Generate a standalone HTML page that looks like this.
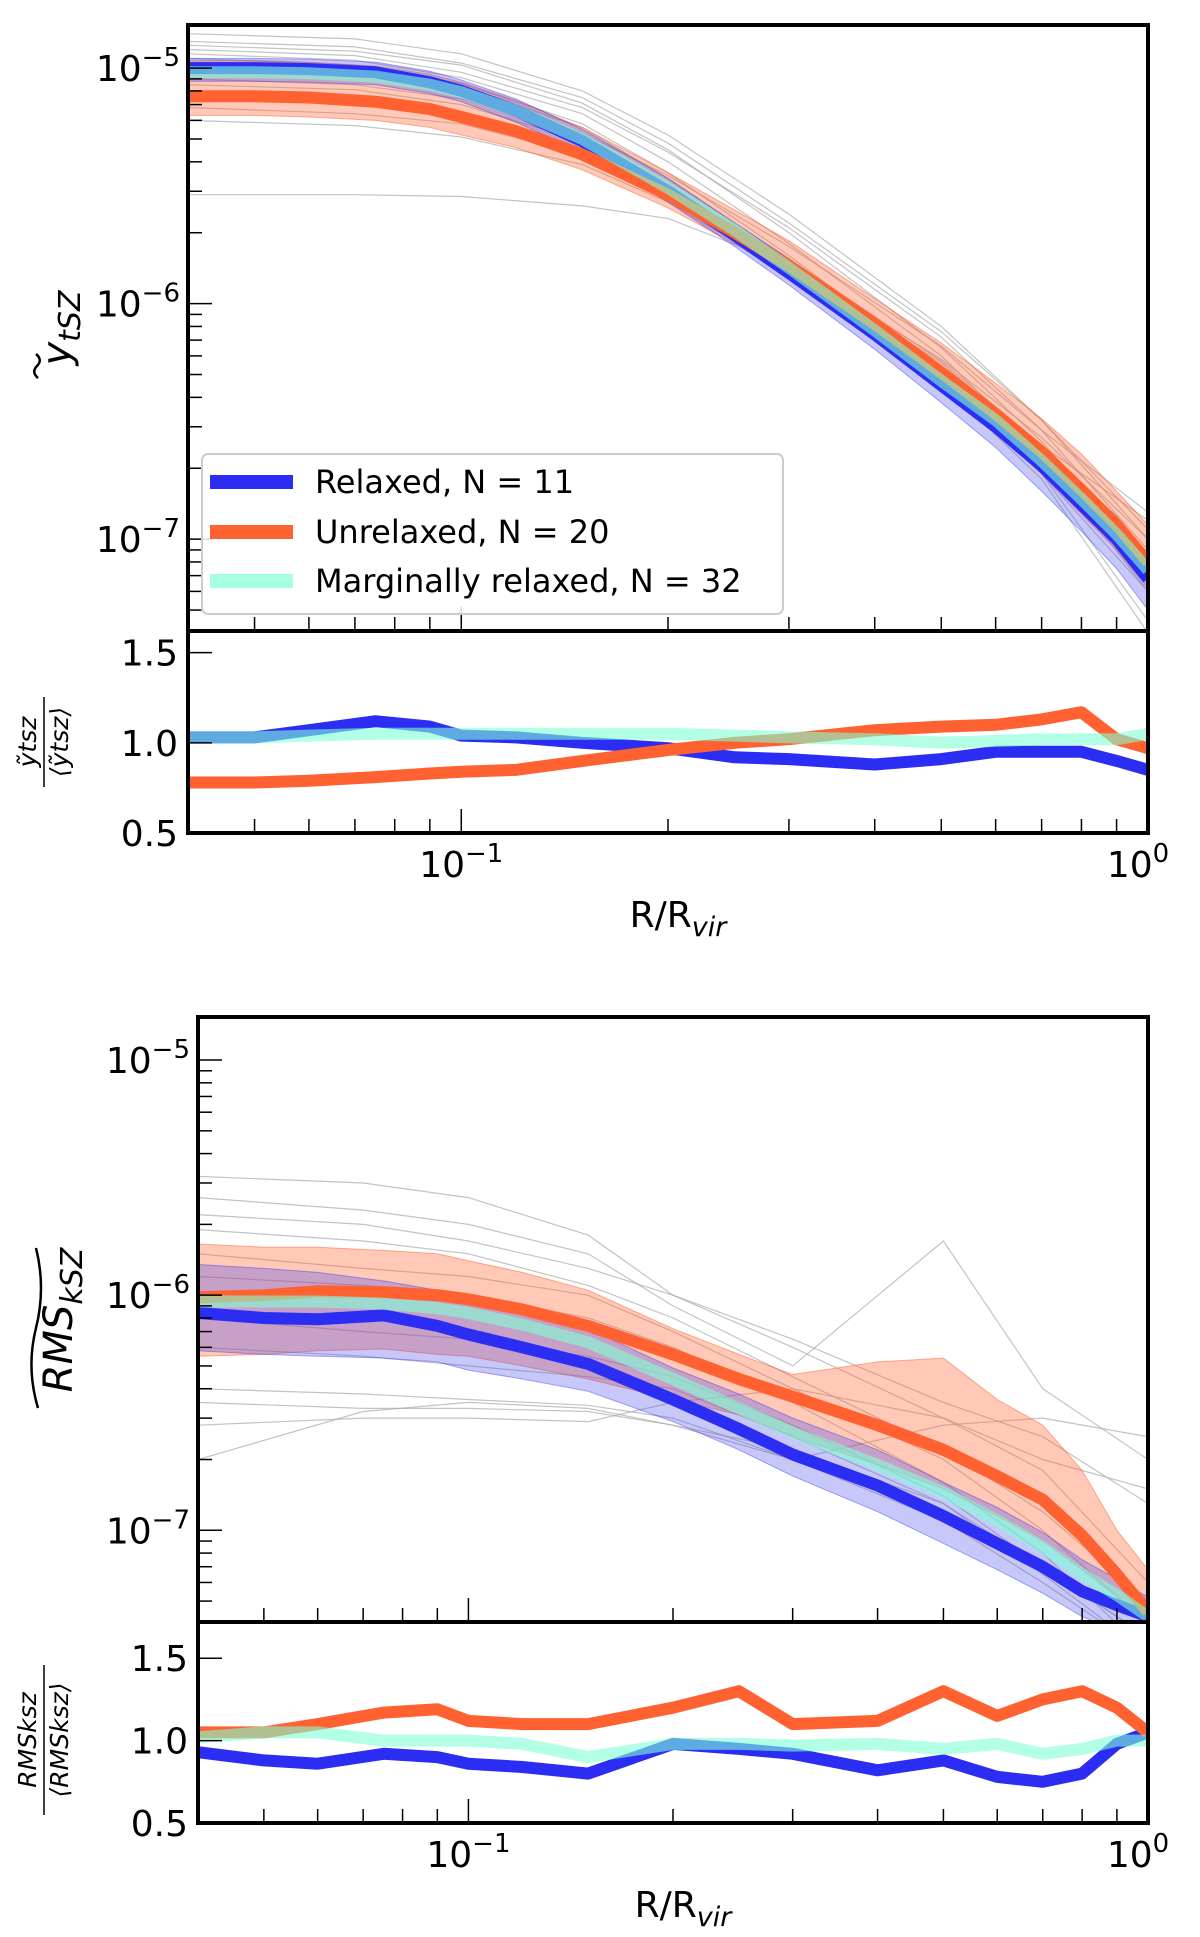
<!DOCTYPE html>
<html><head><meta charset="utf-8"><style>
body{margin:0;background:#fff}
svg{display:block;font-family:"DejaVu Sans","Liberation Sans",sans-serif}
</style></head><body>
<svg id="fig" width="1200" height="1937" viewBox="0 0 1200 1937" xmlns="http://www.w3.org/2000/svg"></svg>
<script>
// ---------- data ----------
const xGrid=[0.04,0.05,0.06,0.075,0.09,0.1,0.12,0.15,0.2,0.25,0.3,0.4,0.5,0.6,0.7,0.8,0.9,1.0];
// top panel (tSZ)
const tszRelaxed=[1.0e-5,1.0e-5,9.9e-6,9.6e-6,8.7e-6,8.0e-6,6.6e-6,4.9e-6,3.0e-6,1.95e-6,1.35e-6,7.4e-7,4.5e-7,3.0e-7,2.05e-7,1.4e-7,1.0e-7,6.8e-8];
const tszRelaxedLo=[8.8e-6,8.8e-6,8.7e-6,8.5e-6,7.8e-6,7.2e-6,5.9e-6,4.4e-6,2.7e-6,1.75e-6,1.2e-6,6.4e-7,3.8e-7,2.45e-7,1.6e-7,1.08e-7,7.5e-8,5.0e-8];
const tszRelaxedHi=[1.1e-5,1.1e-5,1.09e-5,1.06e-5,9.7e-6,8.9e-6,7.4e-6,5.5e-6,3.4e-6,2.2e-6,1.55e-6,8.4e-7,5.2e-7,3.5e-7,2.4e-7,1.7e-7,1.25e-7,8.6e-8];
const tszUnrelaxed=[7.6e-6,7.6e-6,7.5e-6,7.2e-6,6.7e-6,6.2e-6,5.4e-6,4.3e-6,2.9e-6,2.0e-6,1.45e-6,8.2e-7,5.1e-7,3.4e-7,2.35e-7,1.62e-7,1.15e-7,8.0e-8];
const tszUnrelaxedLo=[6.3e-6,6.3e-6,6.2e-6,6.0e-6,5.6e-6,5.2e-6,4.6e-6,3.7e-6,2.55e-6,1.8e-6,1.3e-6,7.0e-7,4.3e-7,2.85e-7,1.9e-7,1.28e-7,9.0e-8,6.2e-8];
const tszUnrelaxedHi=[1.08e-5,1.08e-5,1.06e-5,1.02e-5,9.4e-6,8.7e-6,7.3e-6,5.6e-6,3.6e-6,2.5e-6,1.85e-6,1.05e-6,6.8e-7,4.6e-7,3.25e-7,2.3e-7,1.6e-7,1.15e-7];
const tszMarginal=[9.6e-6,9.6e-6,9.5e-6,9.2e-6,8.5e-6,7.9e-6,6.6e-6,5.0e-6,3.1e-6,2.05e-6,1.42e-6,7.7e-7,4.7e-7,3.2e-7,2.15e-7,1.48e-7,1.05e-7,7.4e-8];
const tszRatioRelaxed=[1.03,1.03,1.07,1.12,1.09,1.04,1.03,1.0,0.97,0.92,0.91,0.88,0.91,0.95,0.95,0.95,0.9,0.85];
const tszRatioUnrelaxed=[0.78,0.78,0.79,0.81,0.83,0.84,0.85,0.9,0.96,1.0,1.02,1.07,1.09,1.1,1.13,1.17,1.02,0.97];
const tszRatioMarginal=[1.03,1.03,1.04,1.05,1.05,1.05,1.05,1.05,1.05,1.04,1.03,1.02,1.0,1.01,1.02,1.02,1.02,1.05];
// individual halos (coarse grid)
const xCoarse=[0.04,0.07,0.1,0.15,0.2,0.3,0.5,0.7,1.0];
const tszHalos=[
 [1.4e-5,1.33e-5,1.15e-5,8.0e-6,5.2e-6,2.4e-6,8.0e-7,3.2e-7,1.0e-7],
 [1.3e-5,1.23e-5,1.05e-5,7.5e-6,4.8e-6,2.2e-6,7.6e-7,3.2e-7,1.1e-7],
 [1.2e-5,1.13e-5,9.6e-6,6.8e-6,4.4e-6,2.1e-6,7.2e-7,2.9e-7,9.0e-8],
 [1.15e-5,1.08e-5,9.1e-6,6.4e-6,4.0e-6,1.8e-6,6.0e-7,2.3e-7,6.0e-8],
 [1.1e-5,1.03e-5,8.6e-6,5.8e-6,3.6e-6,1.6e-6,5.2e-7,1.9e-7,4.5e-8],
 [1.05e-5,9.8e-6,8.4e-6,5.6e-6,3.4e-6,1.55e-6,5.7e-7,2.5e-7,1.2e-7],
 [9.0e-6,8.5e-6,7.4e-6,5.3e-6,3.5e-6,1.75e-6,6.6e-7,2.9e-7,1.3e-7],
 [8.5e-6,8.1e-6,7.0e-6,4.9e-6,3.0e-6,1.35e-6,4.6e-7,1.8e-7,4.0e-8],
 [7.5e-6,7.1e-6,6.2e-6,4.5e-6,2.9e-6,1.45e-6,5.8e-7,2.7e-7,1.0e-7],
 [6.8e-6,6.4e-6,5.8e-6,4.3e-6,2.8e-6,1.3e-6,4.6e-7,1.9e-7,6.0e-8],
 [6.0e-6,5.7e-6,5.1e-6,3.9e-6,2.7e-6,1.35e-6,5.1e-7,2.1e-7,7.0e-8],
 [2.9e-6,2.9e-6,2.85e-6,2.6e-6,2.3e-6,1.45e-6,5.6e-7,2.4e-7,8.0e-8],
 [1.25e-5,1.18e-5,1.03e-5,7.1e-6,4.5e-6,2.0e-6,6.5e-7,2.6e-7,8.0e-8]
];
// bottom panel (kSZ RMS)
const kszRelaxed=[8.4e-7,8.0e-7,7.9e-7,8.2e-7,7.4e-7,6.8e-7,6.0e-7,5.1e-7,3.6e-7,2.7e-7,2.1e-7,1.55e-7,1.15e-7,8.8e-8,7.0e-8,5.5e-8,4.8e-8,4.3e-8];
const kszRelaxedLo=[5.8e-7,5.6e-7,5.5e-7,5.4e-7,5.2e-7,4.8e-7,4.4e-7,3.9e-7,2.9e-7,2.2e-7,1.7e-7,1.2e-7,8.8e-8,6.8e-8,5.4e-8,4.3e-8,3.7e-8,3.3e-8];
const kszRelaxedHi=[1.35e-6,1.3e-6,1.25e-6,1.15e-6,1.05e-6,9.8e-7,8.8e-7,7.2e-7,4.9e-7,3.8e-7,3.0e-7,2.2e-7,1.6e-7,1.25e-7,9.8e-8,7.5e-8,6.2e-8,5.2e-8];
const kszUnrelaxed=[9.8e-7,1.0e-6,1.04e-6,1.03e-6,1.0e-6,9.6e-7,8.7e-7,7.4e-7,5.6e-7,4.4e-7,3.7e-7,2.8e-7,2.2e-7,1.7e-7,1.35e-7,9.5e-8,6.5e-8,4.5e-8];
const kszUnrelaxedLo=[5.5e-7,5.6e-7,5.8e-7,5.9e-7,5.6e-7,5.5e-7,5.0e-7,4.4e-7,3.6e-7,3.1e-7,2.5e-7,1.9e-7,1.5e-7,1.15e-7,9.0e-8,6.8e-8,5.2e-8,3.8e-8];
const kszUnrelaxedHi=[1.65e-6,1.6e-6,1.6e-6,1.55e-6,1.5e-6,1.4e-6,1.25e-6,1.05e-6,7.2e-7,5.6e-7,4.6e-7,5.2e-7,5.4e-7,3.6e-7,2.8e-7,1.8e-7,1.0e-7,6.8e-8];
const kszMarginal=[9.4e-7,9.4e-7,9.4e-7,9.2e-7,8.8e-7,8.4e-7,7.5e-7,6.3e-7,4.4e-7,3.3e-7,2.6e-7,1.9e-7,1.45e-7,1.1e-7,8.5e-8,6.5e-8,5.3e-8,4.3e-8];
const kszRatioRelaxed=[0.93,0.88,0.86,0.92,0.9,0.86,0.84,0.8,0.98,0.95,0.92,0.82,0.88,0.78,0.75,0.8,0.98,1.05];
const kszRatioUnrelaxed=[1.05,1.05,1.1,1.17,1.19,1.12,1.1,1.1,1.2,1.3,1.1,1.12,1.3,1.15,1.25,1.3,1.2,1.05];
const kszRatioMarginal=[1.02,1.05,1.05,1.0,1.0,1.0,0.98,0.9,0.98,0.98,0.97,0.98,0.95,0.98,0.92,0.95,1.0,1.0];
const kszHalos=[
 [3.2e-6,3.0e-6,2.6e-6,1.8e-6,1.0e-6,6.0e-7,3.0e-7,1.8e-7,6.0e-8],
 [2.6e-6,2.3e-6,2.0e-6,1.5e-6,9.0e-7,5.0e-7,1.7e-6,4.0e-7,2.0e-7],
 [2.2e-6,2.0e-6,1.7e-6,1.3e-6,1.0e-6,6.5e-7,3.5e-7,2.5e-7,1.3e-7],
 [1.9e-6,1.7e-6,1.5e-6,1.1e-6,8.0e-7,4.5e-7,2.2e-7,1.2e-7,5.0e-8],
 [1.5e-6,1.3e-6,1.2e-6,1.0e-6,7.0e-7,4.0e-7,2.0e-7,1.0e-7,4.0e-8],
 [1.2e-6,1.1e-6,1.0e-6,8.0e-7,6.0e-7,3.5e-7,1.6e-7,8.0e-8,3.0e-8],
 [8.0e-7,7.0e-7,6.5e-7,5.5e-7,4.5e-7,2.8e-7,1.4e-7,7.0e-8,3.5e-8],
 [6.0e-7,5.5e-7,5.0e-7,4.5e-7,4.0e-7,2.5e-7,1.3e-7,6.5e-8,3.0e-8],
 [4.0e-7,3.8e-7,3.6e-7,3.4e-7,3.0e-7,2.0e-7,1.1e-7,6.0e-8,3.0e-8],
 [3.5e-7,3.3e-7,3.3e-7,3.2e-7,2.8e-7,2.0e-7,2.8e-7,3.0e-7,2.5e-7],
 [2.0e-7,3.2e-7,3.5e-7,3.3e-7,2.8e-7,2.2e-7,1.3e-7,7.0e-8,3.5e-8],
 [2.8e-7,3.0e-7,3.0e-7,2.9e-7,3.5e-7,4.0e-7,3.0e-7,2.0e-7,1.5e-7]
];
const yTickExps=[-5,-6,-7];
const ratioTicks=[0.5,1.0,1.5];

// ---------- drawing ----------
const NS="http://www.w3.org/2000/svg";
const svg=document.getElementById('fig');
function mk(tag,attrs,parent){const e=document.createElementNS(NS,tag);for(const k in attrs)e.setAttribute(k,attrs[k]);(parent||svg).appendChild(e);return e;}
const BLUE="#2b2ef2",ORANGE="#ff6230",AQUA="#7fffd4";

function panel(cfg){
 const L=cfg.left,R=1148,T=cfg.top,MB=cfg.mainBottom,RB=cfg.ratioBottom;
 const lx0=Math.log10(0.04),lx1=0;
 const sx=v=>L+(Math.log10(v)-lx0)/(lx1-lx0)*(R-L);
 const ly0=-7.39,ly1=-4.817;
 const sy=v=>MB-(Math.log10(v)-ly0)/(ly1-ly0)*(MB-T);
 const ry=v=>RB-(v-0.5)/(cfg.rTop-0.5)*(RB-MB);
 const id=cfg.id;
 const defs=mk('defs',{});
 const c1=mk('clipPath',{id:id+'m'},defs);mk('rect',{x:L,y:T,width:R-L,height:MB-T},c1);
 const c2=mk('clipPath',{id:id+'r'},defs);mk('rect',{x:L,y:MB,width:R-L,height:RB-MB},c2);
 const gm=mk('g',{'clip-path':`url(#${id}m)`});
 
 
 const line=(xs,ys,f)=>xs.map((x,i)=>(i?'L':'M')+sx(x).toFixed(1)+','+f(ys[i]).toFixed(1)).join('');
 const band=(xs,lo,hi)=>line(xs,hi,sy)+xs.slice().reverse().map((x,i)=>'L'+sx(x).toFixed(1)+','+sy(lo[lo.length-1-i]).toFixed(1)).join('')+'Z';
 cfg.halos.forEach((h,i)=>{
  const p=mk('path',{d:line(xCoarse,h,sy),fill:'none',stroke:'#aaa','stroke-width':1.2,'stroke-opacity':0.7},gm);
  
  
 });
 let b=mk('path',{d:band(xGrid,cfg.uLo,cfg.uHi),fill:ORANGE,'fill-opacity':0.35,stroke:ORANGE,'stroke-opacity':0.5},gm);
 
 
 b=mk('path',{d:band(xGrid,cfg.rLo,cfg.rHi),fill:'#4444ee','fill-opacity':0.3,stroke:BLUE,'stroke-opacity':0.4},gm);
 
 
 const series=[[cfg.rel,BLUE,1,'relaxed'],[cfg.unr,ORANGE,1,'unrelaxed'],[cfg.mar,AQUA,0.6,'marginally-relaxed']];
 series.forEach(s=>{const p=mk('path',{d:line(xGrid,s[0],sy),fill:'none',stroke:s[1],'stroke-width':12,'stroke-opacity':s[2],'stroke-linejoin':'round'},gm);
  
  });
 const gr=mk('g',{'clip-path':`url(#${id}r)`});
 
 
 [[cfg.rr,BLUE,1,'relaxed'],[cfg.ru,ORANGE,1,'unrelaxed'],[cfg.rm,AQUA,0.6,'marginally-relaxed']].forEach(s=>{
  const p=mk('path',{d:line(xGrid,s[0],ry),fill:'none',stroke:s[1],'stroke-width':12,'stroke-opacity':s[2],'stroke-linejoin':'round'},gr);
  
  });
 const f1=mk('rect',{x:L,y:T,width:R-L,height:MB-T,fill:'none',stroke:'#000','stroke-width':4});
 
 
 const f2=mk('rect',{x:L,y:MB,width:R-L,height:RB-MB,fill:'none',stroke:'#000','stroke-width':4});
 
 
 for(let d=-2;d<=0;d++)for(let m=1;m<10;m++){const v=m*Math.pow(10,d);if(v<0.04-1e-9||v>1.0001)continue;const X=sx(v);const len=m===1?24:14;
  mk('line',{x1:X,y1:MB,x2:X,y2:MB-len,stroke:'#000','stroke-width':1.5});
  mk('line',{x1:X,y1:RB,x2:X,y2:RB-len,stroke:'#000','stroke-width':1.5});}
 [[0.1,'−1'],[1,'0']].forEach(t=>{const tx=mk('text',{x:sx(t[0])-(t[1]==='0'?10:0),y:RB+44,'font-size':36,'text-anchor':'middle'});
  
  
  tx.appendChild(document.createTextNode('10'));const s=mk('tspan',{dy:-15,'font-size':26},tx);s.textContent=t[1];});
 const xl=mk('text',{x:(L+R)/2+10,y:RB+94,'font-size':36,'text-anchor':'middle'});
 
 
 xl.appendChild(document.createTextNode('R/R'));const sub=mk('tspan',{dy:9,'font-size':27,'font-style':'italic'},xl);sub.textContent='vir';
 for(let d=-8;d<=-5;d++)for(let m=1;m<10;m++){const v=m*Math.pow(10,d);const lv=Math.log10(v);if(lv<ly0||lv>ly1)continue;const Y=sy(v);
  mk('line',{x1:L,y1:Y,x2:L+(m===1?24:14),y2:Y,stroke:'#000','stroke-width':1.5});}
 yTickExps.forEach(e=>{const tx=mk('text',{x:L-8,y:sy(Math.pow(10,e))+13,'font-size':36,'text-anchor':'end'});
  
  
  tx.appendChild(document.createTextNode('10'));const s=mk('tspan',{dy:-15,'font-size':26},tx);s.textContent='−'+(-e);});
 ratioTicks.forEach(v=>{const Y=ry(v);mk('line',{x1:L,y1:Y,x2:L+24,y2:Y,stroke:'#000','stroke-width':1.5});
  const tx=mk('text',{x:L-10,y:Y+13,'font-size':36,'text-anchor':'end'});tx.textContent=v.toFixed(1);
  
  });
 return {sx,sy,ry,L,R,T,MB,RB};
}

panel({id:'tsz',left:188,top:25,mainBottom:631,ratioBottom:833,rTop:1.62,halos:tszHalos,
 rel:tszRelaxed,rLo:tszRelaxedLo,rHi:tszRelaxedHi,unr:tszUnrelaxed,uLo:tszUnrelaxedLo,uHi:tszUnrelaxedHi,mar:tszMarginal,
 rr:tszRatioRelaxed,ru:tszRatioUnrelaxed,rm:tszRatioMarginal});
panel({id:'ksz',left:198,top:1017,mainBottom:1622,ratioBottom:1823,rTop:1.72,halos:kszHalos,
 rel:kszRelaxed,rLo:kszRelaxedLo,rHi:kszRelaxedHi,unr:kszUnrelaxed,uLo:kszUnrelaxedLo,uHi:kszUnrelaxedHi,mar:kszMarginal,
 rr:kszRatioRelaxed,ru:kszRatioUnrelaxed,rm:kszRatioMarginal});

function ytitle(x,y,main,sub,name,tilde){
 const g=mk('g',{transform:`translate(${x},${y}) rotate(-90)`});
 
 
 const t=mk('text',{x:0,y:0,'font-size':40,'text-anchor':'middle','font-style':'italic'},g);
 t.appendChild(document.createTextNode(main));const s=mk('tspan',{dy:10,'font-size':30},t);s.textContent=sub;
 mk('path',{d:tilde,fill:'none',stroke:'#000','stroke-width':2.5},g);
 return g;
}
ytitle(70,328,'y','tSZ','tsz-y-axis-title','M-50,-32 q6,-7 12,-1 q6,6 12,-1');
ytitle(72,1320,'RMS','kSZ','ksz-y-axis-title','M-88,-34 q40,-12 80,-2 q40,10 80,0');
function fracTitle(x,y,num,name,w){
 const g=mk('g',{transform:`translate(${x},${y}) rotate(-90)`});
 
 
 const t1=mk('text',{x:0,y:-8,'font-size':25,'text-anchor':'middle','font-style':'italic'},g);t1.textContent=num;
 mk('line',{x1:-w/2,y1:0,x2:w/2,y2:0,stroke:'#000','stroke-width':1.5},g);
 const t2=mk('text',{x:0,y:24,'font-size':25,'text-anchor':'middle','font-style':'italic'},g);t2.textContent='⟨'+num+'⟩';
 return g;
}
fracTitle(44,742,'ỹtsz','tsz-ratio-y-axis-title',90);
fracTitle(44,1740,'RMSksz','ksz-ratio-y-axis-title',150);

const lg=mk('g',{});


mk('rect',{x:202,y:454,width:581,height:160,rx:6,fill:'#fff','fill-opacity':0.85,stroke:'#ccc','stroke-width':2},lg);
[['Relaxed, N = 11',BLUE,1,482],['Unrelaxed, N = 20',ORANGE,1,532],['Marginally relaxed, N = 32',AQUA,0.7,581]].forEach((e,i)=>{
 const g=mk('g',{},lg);
 
 
 mk('line',{x1:210,y1:e[3],x2:293,y2:e[3],stroke:e[1],'stroke-width':14,'stroke-opacity':e[2]},g);
 const t=mk('text',{x:315,y:e[3]+11,'font-size':32},g);t.textContent=e[0];
});
</script>
</body></html>
